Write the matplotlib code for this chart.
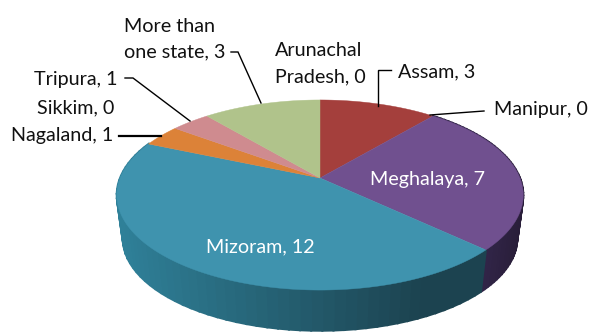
import numpy as np
import matplotlib
matplotlib.use('Agg')
import matplotlib.pyplot as plt
from matplotlib.colors import to_rgb

plt.rcParams['font.family'] = ['Lato', 'DejaVu Sans']

# clockwise from 12 o'clock
states = ['Assam', 'Manipur', 'Meghalaya', 'Mizoram', 'Nagaland', 'Sikkim',
          'Tripura', 'More than one state', 'Arunachal Pradesh']
counts = [3, 0, 7, 12, 1, 0, 1, 3, 0]
top_colors = ['#a43f3c', '#a43f3c', '#70508f', '#3f93ae', '#dc8238', '#cf8b8f',
              '#cf8b8f', '#b0c38b', '#b0c38b']

# pie geometry in pixels
cx, cy = 320, 178
rx, ry = 200, 92
tilt = 0.179
depth = 44
shrink = 0.97


def project(ang, scale=1.0, drop=0):
    # ang is clockwise from the top, the far edge gets squeezed
    u, v = np.sin(ang), np.cos(ang)
    w = 1 + tilt * v
    return cx + scale * rx * u / w, cy - scale * ry * v / w + drop


def side_color(x, name):
    t = np.clip((x - 120) / 300, 0, 1)
    if name == 'Meghalaya':
        a, b = to_rgb('#33264a'), to_rgb('#281d38')
        t = np.clip((x - 480) / 45, 0, 1)
    else:
        a, b = to_rgb('#2f8098'), to_rgb('#1c4350')
    return [a[i] + (b[i] - a[i]) * t for i in range(3)]


fig = plt.figure(figsize=(5.89, 3.33), dpi=100)
ax = fig.add_axes([0, 0, 1, 1])
ax.set_xlim(0, 589)
ax.set_ylim(333, 0)
ax.axis('off')

edges = np.cumsum([0] + counts) / sum(counts) * 2 * np.pi

# side wall first
for name, a0, a1 in zip(states, edges[:-1], edges[1:]):
    if a1 <= a0 or np.cos((a0 + a1) / 2) > 0.2:
        continue
    steps = np.linspace(a0, a1, 60)
    for s0, s1 in zip(steps[:-1], steps[1:]):
        x0, y0 = project(s0)
        x1, y1 = project(s1)
        x2, y2 = project(s1, shrink, depth)
        x3, y3 = project(s0, shrink, depth)
        ax.fill([x0, x1, x2, x3], [y0, y1, y2, y3], color=side_color((x0 + x1) / 2, name), lw=1.5)

# top face
for name, col, a0, a1 in zip(states, top_colors, edges[:-1], edges[1:]):
    if a1 <= a0:
        continue
    ang = np.linspace(a0, a1, 120)
    xs, ys = project(ang)
    ax.fill(np.r_[cx, xs], np.r_[cy, ys], color=col, lw=0.3)

# leader lines
line = dict(color='black', lw=1.0, solid_joinstyle='miter')
ax.plot([125, 133, 190], [78, 78, 121], **line)
ax.plot([231, 238, 261], [52, 52, 103], **line)
ax.plot([119, 161], [136, 136], color='black', lw=1.6)
ax.plot([378, 378, 391], [106, 70, 70], **line)
ax.plot([430, 484], [115, 111], **line)

fs = 14.2
ax.text(124, 27, 'More than', fontsize=fs, va='center', ha='left', color='#111111')
ax.text(124, 52, 'one state, 3', fontsize=fs, va='center', ha='left', color='#111111')
ax.text(275, 51, 'Arunachal', fontsize=fs, va='center', ha='left', color='#111111')
ax.text(275, 77, 'Pradesh, 0', fontsize=fs, va='center', ha='left', color='#111111')
ax.text(117, 79, 'Tripura, 1', fontsize=fs, va='center', ha='right', color='#111111')
ax.text(114, 108, 'Sikkim, 0', fontsize=fs, va='center', ha='right', color='#111111')
ax.text(113, 135, 'Nagaland, 1', fontsize=fs, va='center', ha='right', color='#111111')
ax.text(398, 72, 'Assam, 3', fontsize=fs, va='center', ha='left', color='#111111')
ax.text(494, 110, 'Manipur, 0', fontsize=fs, va='center', ha='left', color='#111111')
ax.text(427, 180, 'Meghalaya, 7', fontsize=fs, va='center', ha='center', color='white')
ax.text(260, 247, 'Mizoram, 12', fontsize=fs, va='center', ha='center', color='white')

fig.savefig('out.png', dpi=100)
